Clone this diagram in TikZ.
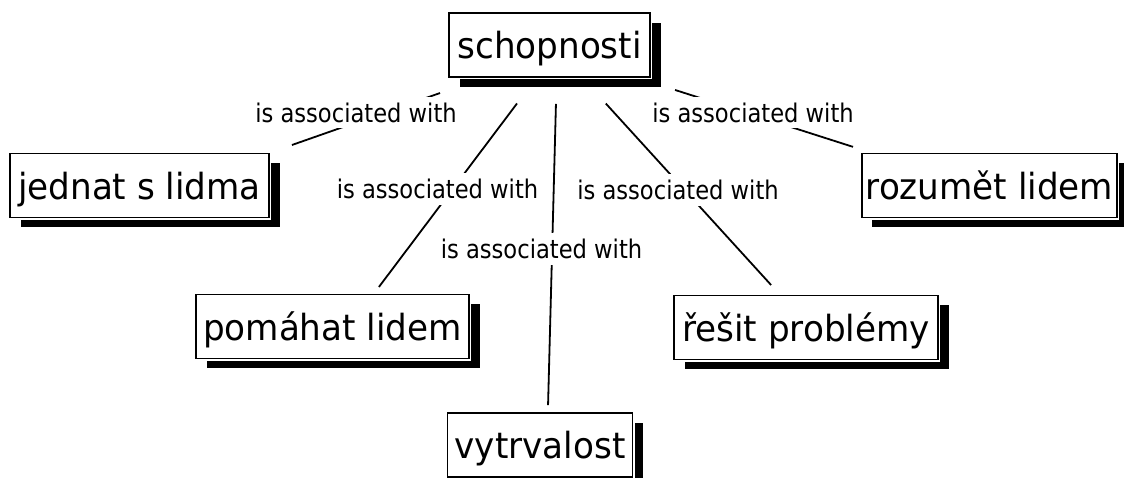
\documentclass[tikz,border=0pt]{standalone}
\usepackage{fontspec}
\setmainfont{DejaVu Sans}[FakeStretch=0.95]
\newfontfamily\linkfont{DejaVu Sans}[FakeStretch=0.88]
\usetikzlibrary{shadows,calc}
\begin{document}
\begin{tikzpicture}[x=1pt,y=-1pt,
  concept/.style={draw=black, line width=1.8pt, fill=white,
    general shadow={fill=black, shadow xshift=10.5pt, shadow yshift=-9.5pt},
    preaction={draw=white, line width=4pt},
    font=\fontsize{36}{42}\selectfont, inner xsep=4pt, inner ysep=0pt,
    minimum height=64pt, text height=27pt, text depth=0pt},
  linker/.style={fill=white, font=\linkfont\fontsize{25.7}{30}\selectfont,
    inner xsep=3pt, inner ysep=6pt},
  link/.style={draw=black, line width=1.8pt}]
\path[use as bounding box] (0,0) rectangle (1124,477);
\clip (0,0) rectangle (1124,477);
\fill[white] (0,0) rectangle (1124,477);

% concepts
\node[concept, minimum width=201pt] (schopnosti) at (549.5,45) {schopnosti};
\node[concept, minimum width=259pt] (jednat) at (139.5,185.5) {jednat s lidma};
\node[concept, minimum width=273pt] (pomahat) at (332.5,326.5) {pomáhat lidem};
\node[concept, minimum width=185pt] (vytrvalost) at (540,445) {vytrvalost};
\node[concept, minimum width=255pt] (rozumet) at (989.5,185.5) {rozumět lidem};
\node[concept, minimum width=264pt] (resit) at (806,327.5) {řešit problémy};

% links
\draw[link, shorten <=116pt, shorten >=161.6pt]
  ($(schopnosti.center)+(0,9.6)$) -- ($(jednat.center)+(0,13)$);
\draw[link, shorten <=73.2pt, shorten >=50.1pt]
  ($(schopnosti.center)+(11.5,0)$) -- ($(pomahat.center)+(16.3,0.5)$);
\draw[link, shorten <=59pt, shorten >=40pt]
  ($(schopnosti.center)+(8,0)$) -- ($(vytrvalost.center)+(7,0)$);
\draw[link, shorten <=79.2pt, shorten >=57.5pt]
  ($(schopnosti.center)+(3,0)$) -- ($(resit.center)+(3.8,0)$);
\draw[link, shorten <=131.8pt, shorten >=143.3pt]
  ($(schopnosti.center)+(0,4.8)$) -- ($(rozumet.center)+(0,5)$);

% linking phrases
\node[linker] (l1) at (356,112.5) {is associated with};
\node[linker] (l2) at (437.5,189) {is associated with};
\node[linker] (l3) at (541.5,249) {is associated with};
\node[linker] (l4) at (678,190) {is associated with};
\node[linker] (l5) at (753,112.5) {is associated with};
\end{tikzpicture}
\end{document}
